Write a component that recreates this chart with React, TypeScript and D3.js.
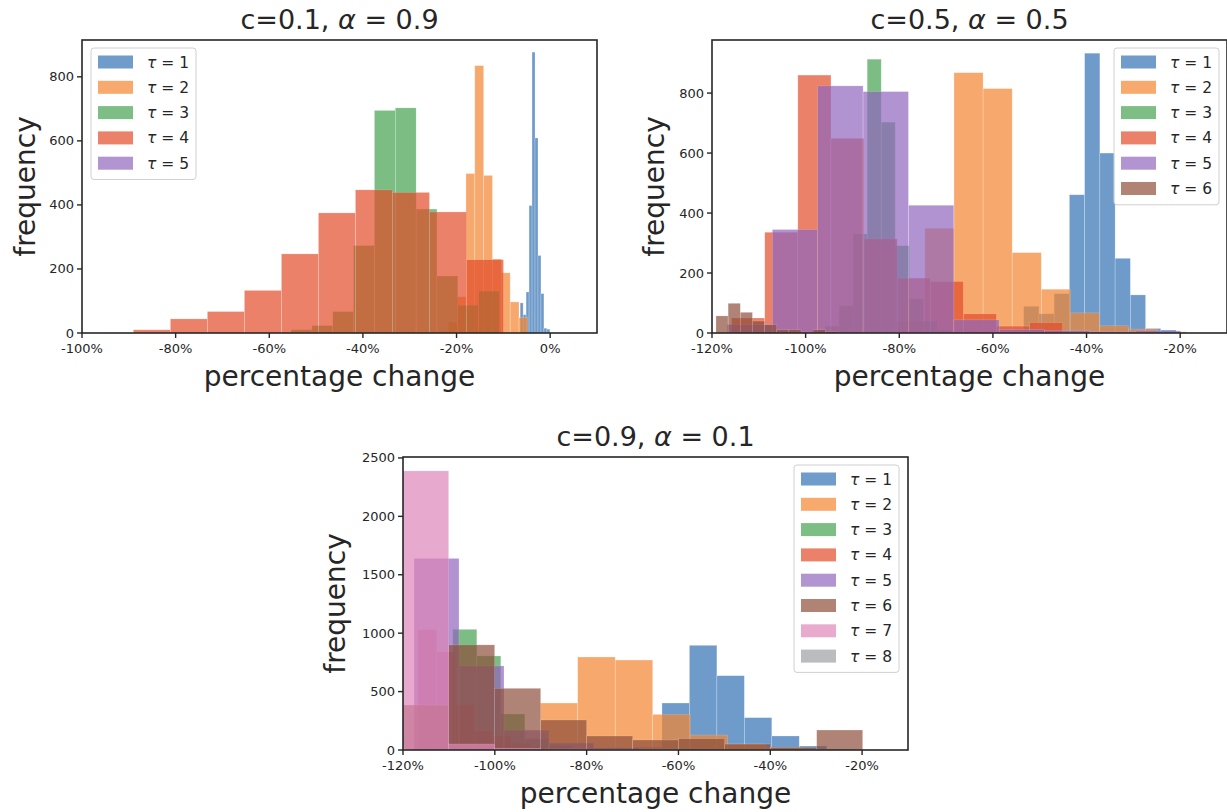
import React from 'react';
import * as d3 from 'd3';

// ---------- colours ----------
const TAU_COLORS = ['#3372b6', '#f58630', '#44a24f', '#e24c29', '#9166be', '#8e4f3b', '#de86b8', '#9e9fa5'];
const BAR_ALPHA = 0.7;

// ---------- panel 1 : c=0.1, alpha=0.9 ----------
const P1_RANGES: number[][] = [[-6.41, -0.07], [-23.65, -4.77], [-55.34, -10.83], [-89.03, -9.97], [0, 0]];
const P1_COUNTS: number[][] = [
  [94, 57, 128, 398, 877, 609, 242, 123, 15, 12],
  [5, 34, 113, 498, 835, 492, 231, 188, 97, 48],
  [10, 23, 67, 273, 695, 703, 387, 178, 87, 131],
  [10, 44, 67, 133, 247, 375, 447, 439, 378, 229],
  [],
];
const P1_XTICKS = [-100, -80, -60, -40, -20, 0];
const P1_YTICKS = [0, 200, 400, 600, 800];

// ---------- panel 2 : c=0.5, alpha=0.5 ----------
const P2_RANGES: number[][] = [[-53.43, -20.88], [-80.74, -18.6], [-98.83, -68.89], [-115.8, -45.1], [-116.8, -19.9], [-119.15, -93.2]];
const P2_COUNTS: number[][] = [
  [89, 64, 131, 461, 933, 600, 249, 127, 15, 10],
  [40, 349, 868, 815, 268, 146, 67, 24, 13, 4],
  [10, 23, 91, 330, 913, 703, 291, 114, 40, 10],
  [50, 336, 860, 649, 314, 183, 172, 64, 23, 35],
  [28, 345, 824, 805, 426, 44, 12, 8, 5, 7],
  [57, 99, 69, 40, 28, 11, 11, 3, 11, 5],
];
const P2_XTICKS = [-120, -100, -80, -60, -40, -20];
const P2_YTICKS = [0, 200, 400, 600, 800];

// ---------- panel 3 : c=0.9, alpha=0.1 ----------
const P3_RANGES: number[][] = [[-81.53, -21.73], [-98.28, -16.6], [-109.15, -56.85], [-116.73, -76.0], [-117.6, -19.6], [-120.07, -19.87], [-120.07, -19.87], [-120.0, -118.0]];
const P3_COUNTS: number[][] = [
  [4, 10, 25, 402, 896, 636, 277, 120, 34, 8],
  [30, 402, 796, 770, 305, 128, 51, 20, 8, 3],
  [1033, 805, 308, 95, 40, 18, 8, 4, 2, 1],
  [1030, 840, 385, 163, 120, 60, 30, 15, 8, 4],
  [1640, 720, 170, 60, 20, 10, 5, 3, 2, 1],
  [385, 900, 528, 257, 120, 86, 97, 51, 23, 171],
  [2389, 51, 15, 8, 5, 3, 2, 1, 1, 1],
  [43, 10, 4, 2, 1, 0, 0, 0, 0, 1],
];
const P3_XTICKS = [-120, -100, -80, -60, -40, -20];
const P3_YTICKS = [0, 500, 1000, 1500, 2000, 2500];

const FONT = 'DejaVu Sans, sans-serif';
const INK = '#262626';

type PanelProps = {
  id: string;
  left: number; right: number; top: number; bottom: number;
  xDomain: [number, number]; yDomain: [number, number];
  xTicks: number[]; yTicks: number[];
  ranges: number[][]; counts: number[][];
  titleC: string; titleA: string;
  legend: { x: number; y: number; w: number };
  yLabelX: number;
};

function Panel(p: PanelProps) {
  const xs = d3.scaleLinear().domain(p.xDomain).range([p.left, p.right]);
  const ys = d3.scaleLinear().domain(p.yDomain).range([p.bottom, p.top]);
  const cx = (p.left + p.right) / 2;
  const cy = (p.top + p.bottom) / 2;
  const nSeries = p.counts.length;
  const rowH = 25.3;
  const legH = nSeries * rowH + 5;
  return (
    <g>
      <defs>
        <clipPath id={`clip-${p.id}`}>
          <rect x={p.left} y={p.top} width={p.right - p.left} height={p.bottom - p.top} />
        </clipPath>
      </defs>
      <g clipPath={`url(#clip-${p.id})`}>
        {p.counts.map((cs, si) => {
          const [lo, hi] = p.ranges[si];
          const w = (hi - lo) / (cs.length || 1);
          return (
            <g key={si} opacity={BAR_ALPHA}>
              {cs.map((c, j) => {
                if (c <= 0) return null;
                const x0 = xs(lo + j * w);
                const x1 = xs(lo + (j + 1) * w);
                return (
                  <rect key={j} x={x0} y={ys(c)} width={x1 - x0} height={ys(0) - ys(c)}
                    fill={TAU_COLORS[si]} stroke="#ffffff" strokeOpacity={0.35} strokeWidth={0.6} />
                );
              })}
            </g>
          );
        })}
      </g>
      {/* frame */}
      <rect x={p.left} y={p.top} width={p.right - p.left} height={p.bottom - p.top}
        fill="none" stroke={INK} strokeWidth={1.6} />
      {/* x ticks */}
      {p.xTicks.map((t) => (
        <g key={t}>
          <line x1={xs(t)} x2={xs(t)} y1={p.bottom} y2={p.bottom + 5} stroke={INK} strokeWidth={1.4} />
          <text x={xs(t)} y={p.bottom + 20} textAnchor="middle" fontSize={13} fill={INK} fontFamily={FONT}>{`${t}%`}</text>
        </g>
      ))}
      {/* y ticks */}
      {p.yTicks.map((t) => (
        <g key={t}>
          <line x1={p.left - 5} x2={p.left} y1={ys(t)} y2={ys(t)} stroke={INK} strokeWidth={1.4} />
          <text x={p.left - 8} y={ys(t) + 4.5} textAnchor="end" fontSize={13} fill={INK} fontFamily={FONT}>{t}</text>
        </g>
      ))}
      {/* axis labels */}
      <text x={cx} y={p.bottom + 53} textAnchor="middle" fontSize={28} fill={INK} fontFamily={FONT}>percentage change</text>
      <text transform={`translate(${p.yLabelX},${cy}) rotate(-90)`} textAnchor="middle" fontSize={28} fill={INK} fontFamily={FONT}>frequency</text>
      {/* title */}
      <text x={cx} y={p.top - 11} textAnchor="middle" fontSize={27} fill={INK} fontFamily={FONT}>
        {`c=${p.titleC}, `}<tspan fontStyle="italic">α</tspan>{` = ${p.titleA}`}
      </text>
      {/* legend */}
      <g>
        <rect x={p.legend.x} y={p.legend.y} width={p.legend.w} height={legH} rx={3}
          fill="#fff" fillOpacity={0.8} stroke="#d0d0d0" strokeWidth={1} />
        {p.counts.map((_, si) => {
          const ry = p.legend.y + 14 + si * rowH;
          return (
            <g key={si}>
              <rect x={p.legend.x + 7} y={ry - 6.5} width={35} height={13} fill={TAU_COLORS[si]} opacity={BAR_ALPHA} />
              <text x={p.legend.x + 56} y={ry + 5.5} fontSize={15.5} fill={INK} fontFamily={FONT}>
                <tspan fontStyle="italic">τ</tspan>{` = ${si + 1}`}
              </text>
            </g>
          );
        })}
      </g>
    </g>
  );
}

export default function App() {
  return (
    <svg width={1227} height={812} style={{ position: 'absolute', left: 0, top: 0, background: '#fff' }}>
      <rect x={0} y={0} width={1227} height={812} fill="#fff" />
      <Panel id="p1" left={82} right={597} top={40} bottom={333}
        xDomain={[-100, 10]} yDomain={[0, 915]} xTicks={P1_XTICKS} yTicks={P1_YTICKS}
        ranges={P1_RANGES} counts={P1_COUNTS} titleC="0.1" titleA="0.9"
        legend={{ x: 91, y: 48, w: 105 }} yLabelX={35} />
      <Panel id="p2" left={712} right={1227} top={40} bottom={333}
        xDomain={[-120, -10]} yDomain={[0, 977]} xTicks={P2_XTICKS} yTicks={P2_YTICKS}
        ranges={P2_RANGES} counts={P2_COUNTS} titleC="0.5" titleA="0.5"
        legend={{ x: 1114, y: 48, w: 105 }} yLabelX={664} />
      <Panel id="p3" left={403} right={908} top={457} bottom={750}
        xDomain={[-120, -10]} yDomain={[0, 2508]} xTicks={P3_XTICKS} yTicks={P3_YTICKS}
        ranges={P3_RANGES} counts={P3_COUNTS} titleC="0.9" titleA="0.1"
        legend={{ x: 794, y: 465, w: 105 }} yLabelX={345} />
    </svg>
  );
}
